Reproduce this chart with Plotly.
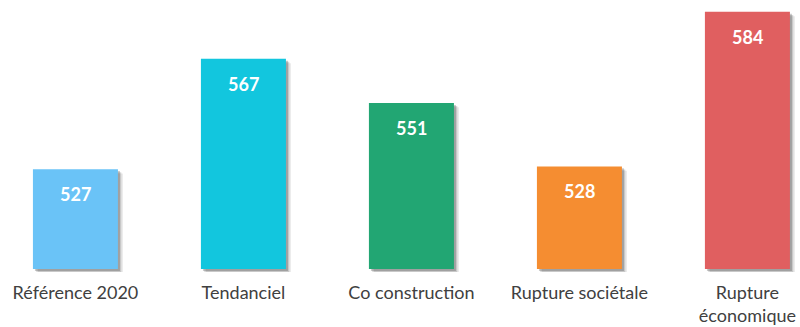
import plotly.graph_objects as go

categories = ["Référence 2020", "Tendanciel", "Co construction", "Rupture sociétale", "Rupture<br>économique"]
values = [527, 567, 551, 528, 584]
colors = ["#6AC3F7", "#12C6DE", "#22A673", "#F58D31", "#E05F60"]

BASE = 490.8
heights = [v - BASE for v in values]
BAR_W = 0.506

fig = go.Figure()
# soft shadows (drawn behind)
for dx, dy, a in [(0.030, 1.6, 0.08), (0.020, 1.1, 0.15), (0.012, 0.7, 0.2)]:
    fig.add_trace(go.Bar(
        x=list(range(len(categories))), y=heights, base=BASE - dy,
        width=BAR_W, offset=-BAR_W / 2 + dx,
        marker=dict(color=f"rgba(0,0,0,{a})", line=dict(width=0)),
        hoverinfo="skip", showlegend=False,
    ))
fig.add_trace(go.Bar(
    x=list(range(len(categories))), y=heights, base=BASE,
    width=BAR_W, offset=-BAR_W / 2,
    marker=dict(color=colors, line=dict(width=0)),
    customdata=values, hovertemplate="%{customdata}<extra></extra>",
    showlegend=False,
))

for i, v in enumerate(values):
    fig.add_annotation(x=i, y=v, text=f"<b>{v}</b>", showarrow=False,
                       yanchor="middle", yshift=-25,
                       font=dict(family="Lato", size=18, color="white"))

fig.update_layout(
    width=800, height=327,
    margin=dict(l=0, r=0, t=0, b=55),
    paper_bgcolor="white", plot_bgcolor="white",
    barmode="overlay",
    xaxis=dict(
        tickmode="array", tickvals=list(range(len(categories))), ticktext=categories,
        range=[-0.449, 4.313], showgrid=False, zeroline=False, showline=False,
        ticks="", ticklen=0, ticklabelstandoff=8,
        tickfont=dict(family="Lato", size=18, color="#404040"),
    ),
    yaxis=dict(range=[489.75, 588.3], visible=False, showgrid=False, zeroline=False),
)

fig.write_html("out.html")
